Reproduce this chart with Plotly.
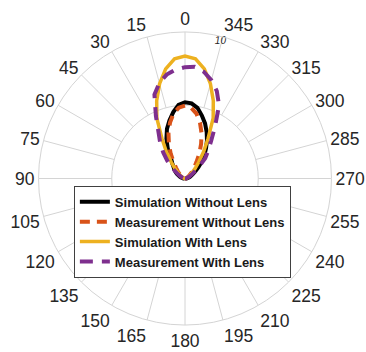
import plotly.graph_objects as go

# Angles in degrees (0 = up, positive = counter-clockwise / left side)
theta = [-100, -95, -90, -85, -80, -75, -70, -65, -60, -55, -50, -45, -40, -35, -30, -25, -20, -15, -10, -5,
         0, 5, 10, 15, 20, 25, 30, 35, 40, 45, 50, 55, 60, 65, 70, 75, 80, 85, 90, 95, 100]

sim_without_lens = [0.03, 0.06, 0.10, 0.14, 0.20, 0.28, 0.38, 0.50, 0.65, 0.85, 1.20, 1.60, 2.05, 2.50, 3.00, 3.50, 4.00, 4.45, 4.90, 5.15,
                    5.20, 5.05, 4.60, 4.10, 3.60, 3.00, 2.35, 1.65, 1.35, 1.10, 0.95, 0.80, 0.65, 0.50, 0.38, 0.28, 0.20, 0.14, 0.10, 0.06, 0.03]

meas_without_lens = [0.0, 0.01, 0.02, 0.04, 0.06, 0.09, 0.12, 0.18, 0.25, 0.35, 0.50, 0.70, 0.95, 1.35, 1.95, 2.60, 3.30, 3.95, 4.50, 4.85,
                     4.97, 4.85, 4.50, 3.95, 3.30, 2.60, 1.95, 1.35, 0.95, 0.70, 0.50, 0.35, 0.25, 0.18, 0.12, 0.09, 0.06, 0.04, 0.02, 0.01, 0.0]

sim_with_lens = [0.0, 0.0, 0.0, 0.02, 0.05, 0.08, 0.12, 0.18, 0.28, 0.42, 0.65, 1.00, 1.45, 2.20, 3.15, 4.55, 5.65, 6.70, 7.60, 8.20,
                 8.36, 8.20, 7.60, 6.70, 5.65, 4.55, 3.15, 2.20, 1.45, 1.00, 0.65, 0.42, 0.28, 0.18, 0.12, 0.08, 0.05, 0.02, 0.0, 0.0, 0.0]

meas_with_lens = [0.0, 0.01, 0.02, 0.04, 0.07, 0.12, 0.20, 0.32, 0.50, 0.75, 1.20, 1.95, 2.45, 3.10, 4.10, 5.50, 6.35, 6.95, 7.40, 7.65,
                  7.60, 7.45, 7.20, 6.75, 6.10, 4.70, 3.60, 2.95, 2.30, 1.70, 1.15, 0.75, 0.50, 0.32, 0.20, 0.12, 0.07, 0.04, 0.02, 0.01, 0.0]

angle_ticks = list(range(0, 360, 15))
angle_labels = [str(a) for a in angle_ticks]
radial_ticks = [5, 10]
radial_label = "10"

grid_color = "#d4d4d4"
font_family = "Liberation Sans, Arial, Helvetica, sans-serif"

fig = go.Figure()

# spokes from inner ring (r=5) to outer ring (r=10)
spoke_r, spoke_t = [], []
for a in angle_ticks:
    spoke_r += [radial_ticks[0], radial_ticks[1], None]
    spoke_t += [a, a, None]
fig.add_trace(go.Scatterpolar(r=spoke_r, theta=spoke_t, mode="lines",
                              line=dict(color=grid_color, width=1),
                              showlegend=False, hoverinfo="skip", connectgaps=False))

fig.add_trace(go.Scatterpolar(r=sim_without_lens, theta=theta, mode="lines",
                              name="Simulation Without Lens",
                              line=dict(color="#000000", width=4)))
fig.add_trace(go.Scatterpolar(r=meas_without_lens, theta=theta, mode="lines",
                              name="Measurement Without Lens",
                              line=dict(color="#D95319", width=4, dash="10px,7px")))
fig.add_trace(go.Scatterpolar(r=sim_with_lens, theta=theta, mode="lines",
                              name="Simulation With Lens",
                              line=dict(color="#EDB120", width=3.5)))
fig.add_trace(go.Scatterpolar(r=meas_with_lens, theta=theta, mode="lines",
                              name="Measurement With Lens",
                              line=dict(color="#7E2F8E", width=4, dash="13px,9px")))

# radial tick label
fig.add_trace(go.Scatterpolar(r=[9.65], theta=[-14.5], mode="text", text=[radial_label],
                              textfont=dict(family=font_family, size=10, color="#262626", style="italic"),
                              showlegend=False, hoverinfo="skip"))

fig.update_layout(
    width=366, height=352,
    margin=dict(l=38, r=34, t=32, b=27),
    paper_bgcolor="white",
    font=dict(family=font_family, color="#262626"),
    polar=dict(
        bgcolor="white",
        angularaxis=dict(
            rotation=90, direction="counterclockwise",
            tickmode="array", tickvals=angle_ticks, ticktext=angle_labels,
            showgrid=False, showline=True, linecolor=grid_color, linewidth=1,
            ticks="",
            tickfont=dict(size=17.5, family=font_family, color="#262626"),
        ),
        radialaxis=dict(
            range=[0, 10], tickvals=radial_ticks, showticklabels=False,
            showline=False, ticks="", gridcolor=grid_color, gridwidth=1,
        ),
    ),
    legend=dict(
        x=0.122, y=0.475, xanchor="left", yanchor="top",
        bgcolor="white", bordercolor="#404040", borderwidth=1,
        font=dict(size=13, family=font_family, color="#1a1a1a", weight="bold"),
        tracegroupgap=0,
    ),
    showlegend=True,
)

fig.write_html("out.html")
